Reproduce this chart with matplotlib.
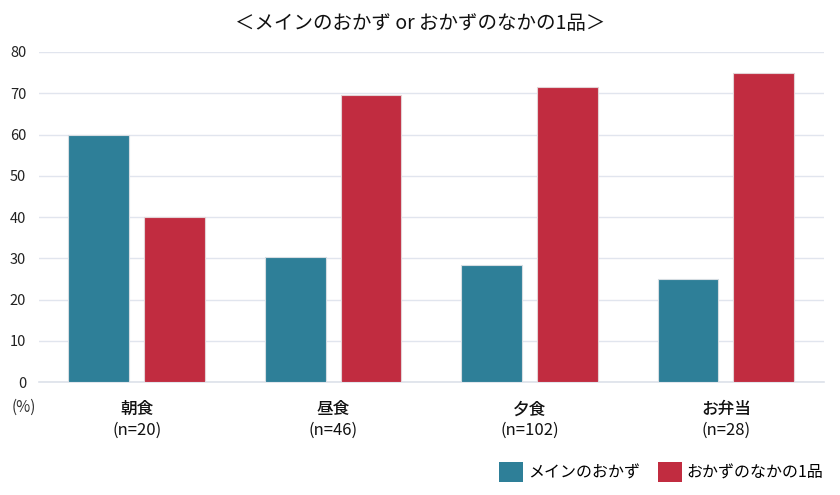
import numpy as np
import matplotlib
matplotlib.use('Agg')
import matplotlib.pyplot as plt
import matplotlib.transforms as mtransforms
from matplotlib.patches import Patch

plt.rcParams['font.family'] = ['Noto Sans CJK JP', 'DejaVu Sans']

# データ
categories = ['朝食', '昼食', '夕食', 'お弁当']
sample_sizes = ['(n=20)', '(n=46)', '(n=102)', '(n=28)']
main_dish = [60.0, 30.4, 28.4, 25.0]
side_dish = [40.0, 69.6, 71.6, 75.0]
series_names = ['メインのおかず', 'おかずのなかの1品']
yticks = [0, 10, 20, 30, 40, 50, 60, 70, 80]

blue = '#2E7F98'
red = '#C12C40'

fig = plt.figure(figsize=(8.4, 4.95), dpi=100)
ax = fig.add_axes([0.046, 0.228, 0.935, 0.667])

x = np.arange(len(categories))
w = 0.31
off = 0.193
ax.bar(x - off, main_dish, w, color=blue, edgecolor='#d6dde2', linewidth=0.8, zorder=3)
ax.bar(x + off, side_dish, w, color=red, edgecolor='#e3d2d5', linewidth=0.8, zorder=3)

ax.set_xlim(-0.5, 3.5)
ax.set_ylim(0, 80)
ax.set_yticks(yticks)
ax.yaxis.grid(True, color='#e1e5ee', linewidth=1, zorder=0)
ax.set_axisbelow(True)
for s in ['top', 'right', 'left']:
    ax.spines[s].set_visible(False)
ax.spines['bottom'].set_color('#dde1ea')
ax.spines['bottom'].set_linewidth(1.2)
ax.tick_params(axis='both', length=0, colors='#222222')
ax.tick_params(axis='y', labelsize=10.5, pad=9)
ax.set_xticks(x)
ax.set_xticklabels(categories, fontsize=12, fontweight='medium', color='#111111')
ax.tick_params(axis='x', pad=13)

# サンプル数（2行目）
trans = mtransforms.blended_transform_factory(ax.transData, fig.transFigure)
for xi, n in zip(x, sample_sizes):
    ax.text(xi, 1 - 430 / 495, n, transform=trans, ha='center', va='center',
            fontsize=12, color='#111111')

fig.text(0.5, 0.952, '＜メインのおかず or おかずのなかの1品＞', ha='center', va='center', fontsize=14, color='#111111')
fig.text(0.028, 1 - 407 / 495, '(%)', ha='center', va='center', fontsize=11, color='#333333')

handles = [Patch(facecolor=blue), Patch(facecolor=red)]
fig.legend(handles, series_names, loc='center right', bbox_to_anchor=(0.997, 0.046),
           ncol=2, frameon=False, fontsize=11.5, handlelength=1.5, handleheight=1.6,
           handletextpad=0.3, columnspacing=1.1)

fig.savefig('out.png', dpi=100)
